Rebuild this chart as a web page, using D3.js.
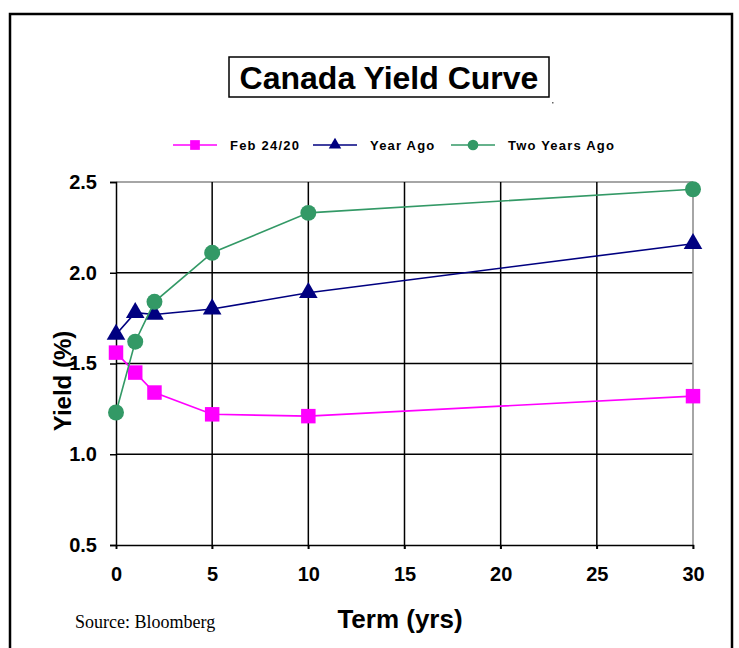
<!DOCTYPE html>
<html>
<head>
<meta charset="utf-8">
<script src="https://cdn.jsdelivr.net/npm/d3@7"></script>
<style>
  html, body { margin: 0; padding: 0; background: #fff; }
  svg { display: block; }
</style>
</head>
<body>
<svg id="chart" width="739" height="648"></svg>
<script>
// Term in years for each point on the curve
const terms = [0, 1, 2, 5, 10, 30];
// Yields (%) per curve
const febYields = [1.56, 1.45, 1.34, 1.22, 1.21, 1.32];
const yearAgoYields = [1.66, 1.78, 1.77, 1.80, 1.89, 2.16];
const twoYearsAgoYields = [1.23, 1.62, 1.84, 2.11, 2.33, 2.46];
const seriesNames = ["Feb 24/20", "Year Ago", "Two Years Ago"];
const xTicks = [0, 5, 10, 15, 20, 25, 30];
const yTicks = [0.5, 1.0, 1.5, 2.0, 2.5];

const FONT = "Arial, 'Liberation Sans', sans-serif";
const svg = d3.select("#chart");

// outer frame
svg.append("rect").attr("x", 10).attr("y", 14).attr("width", 722).attr("height", 650)
  .attr("fill", "none").attr("stroke", "#000").attr("stroke-width", 2.5);

const x = d3.scaleLinear().domain([0, 30]).range([116, 693]);
const y = d3.scaleLinear().domain([0.5, 2.5]).range([545, 182]);

// grid lines
const g = svg.append("g");
g.selectAll(".hg").data(yTicks.filter(v => v > 0.5)).join("line")
  .attr("x1", x(0)).attr("x2", x(30))
  .attr("y1", d => y(d)).attr("y2", d => y(d))
  .attr("stroke", d => d === 2.5 ? "#888" : "#000").attr("stroke-width", 1.5);
g.selectAll(".vg").data(xTicks.filter(v => v > 0)).join("line")
  .attr("x1", d => x(d)).attr("x2", d => x(d))
  .attr("y1", y(2.5)).attr("y2", y(0.5) + 4)
  .attr("stroke", d => d === 30 ? "#888" : "#000").attr("stroke-width", 1.5);

// axes
const yAxis = d3.axisLeft(y).tickValues(yTicks).tickFormat(d3.format(".1f")).tickSize(6).tickPadding(13);
const ya = svg.append("g").attr("transform", `translate(${x(0)},0)`).call(yAxis);
const xAxis = d3.axisBottom(x).tickValues(xTicks).tickFormat(d3.format("d")).tickSize(4).tickPadding(18);
const xa = svg.append("g").attr("transform", `translate(0,${y(0.5)})`).call(xAxis);
[ya, xa].forEach(a => {
  a.select(".domain").attr("stroke", "#000").attr("stroke-width", 1.5);
  a.selectAll(".tick line").attr("stroke", "#000").attr("stroke-width", 1.5);
  a.selectAll("text").attr("fill", "#000").attr("font-family", FONT)
    .attr("font-weight", "bold").attr("font-size", 20);
});

// series
const series = [
  { name: seriesNames[0], values: febYields, color: "#ff00ff", shape: "square" },
  { name: seriesNames[1], values: yearAgoYields, color: "#000080", shape: "triangle" },
  { name: seriesNames[2], values: twoYearsAgoYields, color: "#339966", shape: "circle" }
];
const symbolFor = { square: d3.symbolSquare, triangle: d3.symbolTriangle, circle: d3.symbolCircle };
const sizeFor = { square: 210, triangle: 150, circle: 200 };

const line = d3.line().x(d => x(d[0])).y(d => y(d[1]));
series.forEach(s => {
  const pts = terms.map((t, i) => [t, s.values[i]]);
  svg.append("path").datum(pts).attr("d", line)
    .attr("fill", "none").attr("stroke", s.color).attr("stroke-width", 1.6);
  svg.append("g").selectAll("path").data(pts).join("path")
    .attr("transform", d => `translate(${x(d[0])},${y(d[1])})`)
    .attr("d", d3.symbol().type(symbolFor[s.shape]).size(sizeFor[s.shape]))
    .attr("fill", s.color);
});

// title
svg.append("rect").attr("x", 229).attr("y", 57).attr("width", 320).attr("height", 40)
  .attr("fill", "#fff").attr("stroke", "#000").attr("stroke-width", 1.5);
svg.append("text").attr("x", 389).attr("y", 89).attr("text-anchor", "middle")
  .attr("font-family", FONT).attr("font-weight", "bold")
  .attr("font-size", 32).text("Canada Yield  Curve");
svg.append("rect").attr("x", 552).attr("y", 102).attr("width", 1.5).attr("height", 1.5).attr("fill", "#666");

// legend
const legendX = [173, 313, 451];
series.forEach((s, i) => {
  const lg = svg.append("g").attr("transform", `translate(${legendX[i]},145)`);
  lg.append("line").attr("x1", 0).attr("x2", 44).attr("stroke", s.color).attr("stroke-width", 1.6);
  lg.append("path").attr("transform", "translate(22,0)")
    .attr("d", d3.symbol().type(symbolFor[s.shape]).size(sizeFor[s.shape] * 0.45)).attr("fill", s.color);
  lg.append("text").attr("x", 57).attr("y", 5)
    .attr("font-family", FONT).attr("font-weight", "bold")
    .attr("font-size", 13).attr("letter-spacing", 1.2).text(s.name);
});

// axis titles
svg.append("text").attr("x", 400).attr("y", 628).attr("text-anchor", "middle")
  .attr("font-family", FONT).attr("font-weight", "bold")
  .attr("font-size", 26).text("Term (yrs)");
svg.append("text").attr("transform", "translate(71,381) rotate(-90)").attr("text-anchor", "middle")
  .attr("font-family", FONT).attr("font-weight", "bold")
  .attr("font-size", 24).text("Yield (%)");

// source note
svg.append("text").attr("x", 75).attr("y", 628)
  .attr("font-family", "'Liberation Serif', 'Times New Roman', serif")
  .attr("font-size", 18).text("Source: Bloomberg");
</script>
</body>
</html>
